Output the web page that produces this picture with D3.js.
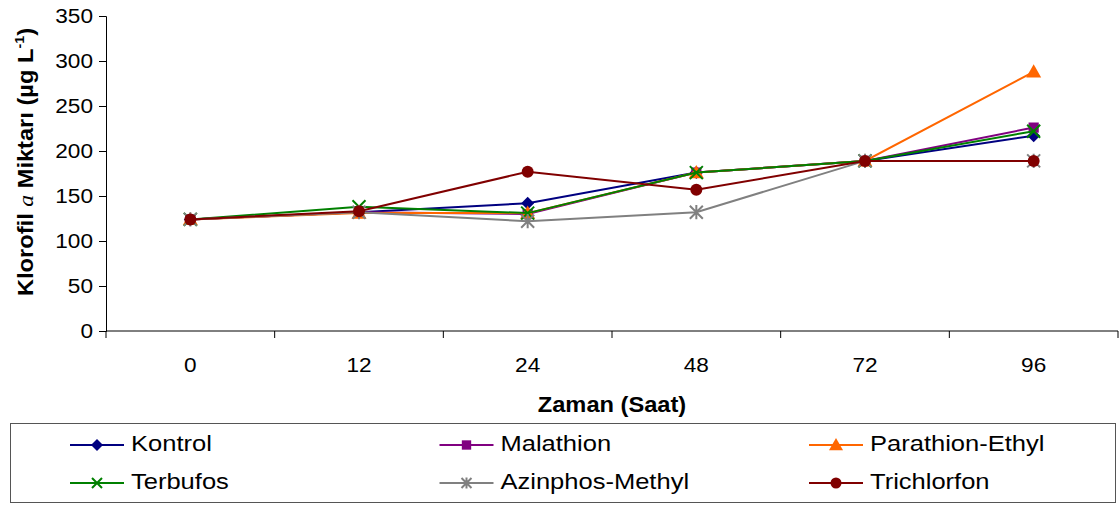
<!DOCTYPE html>
<html>
<head>
<meta charset="utf-8">
<script src="https://cdn.jsdelivr.net/npm/d3@7"></script>
<style>
  body { margin: 0; background: #fff; }
  svg { font-family: "Liberation Sans", Arial, sans-serif; }
</style>
</head>
<body>
<div id="chart"></div>
<script>
const hours = ["0", "12", "24", "48", "72", "96"];
const yTicks = [0, 50, 100, 150, 200, 250, 300, 350];

const kontrol = [124, 132, 142, 176, 189, 217];
const malathion = [124, 132, 130, 176, 189, 226];
const parathionEthyl = [124, 131, 131, 176, 189, 288];
const terbufos = [124, 138, 131, 176, 189, 222];
const azinphosMethyl = [124, 132, 122, 132, 189, 189];
const trichlorfon = [124, 133, 177, 157, 189, 189];

const series = [
  { name: "Kontrol", values: kontrol, color: "#000080", symbol: "diamond" },
  { name: "Malathion", values: malathion, color: "#800080", symbol: "square" },
  { name: "Parathion-Ethyl", values: parathionEthyl, color: "#FF6600", symbol: "triangle" },
  { name: "Terbufos", values: terbufos, color: "#008000", symbol: "x" },
  { name: "Azinphos-Methyl", values: azinphosMethyl, color: "#808080", symbol: "star" },
  { name: "Trichlorfon", values: trichlorfon, color: "#800000", symbol: "circle" },
];

const width = 1119, height = 506;
const plot = { left: 106, right: 1118, top: 16, bottom: 331 };
const stretch = 1.16; // the original text is a little wider than Liberation Sans

const svg = d3.select("#chart").append("svg")
  .attr("width", width).attr("height", height);

const x = d3.scaleBand().domain(hours).range([plot.left, plot.right]);
const y = d3.scaleLinear().domain([0, 350]).range([plot.bottom, plot.top]);

// y axis
const yAxis = svg.append("g").attr("transform", `translate(${plot.left},0)`)
  .call(d3.axisLeft(y).tickValues(yTicks).tickSize(7).tickPadding(6));
yAxis.select(".domain").attr("stroke", "#000").attr("stroke-width", 1);
yAxis.selectAll(".tick line").attr("stroke", "#000");
yAxis.selectAll("text").attr("font-size", 19.5).attr("fill", "#000")
  .attr("font-family", "Liberation Sans, Arial, sans-serif")
  .attr("x", -13 / stretch).attr("transform", `scale(${stretch},1)`);

// x axis
const xAxis = svg.append("g").attr("transform", `translate(0,${plot.bottom})`)
  .call(d3.axisBottom(x).tickSize(0));
xAxis.select(".domain").attr("stroke", "#000").attr("d", `M${plot.left},0H${plot.right}`);
xAxis.selectAll(".tick text").attr("font-size", 19.5).attr("fill", "#000")
  .attr("font-family", "Liberation Sans, Arial, sans-serif")
  .attr("y", 41).attr("dy", 0).attr("transform", `scale(${stretch},1)`);
// ticks at category boundaries
const boundaries = hours.map(h => x(h)).concat([x(hours[hours.length - 1]) + x.bandwidth()]);
xAxis.selectAll("line.boundary").data(boundaries).join("line")
  .attr("class", "boundary")
  .attr("x1", d => d).attr("x2", d => d)
  .attr("y1", 0).attr("y2", 7)
  .attr("stroke", "#000");

// axis titles
svg.append("text")
  .attr("transform", `translate(${(plot.left + plot.right) / 2},412) scale(1.1,1)`)
  .attr("text-anchor", "middle").attr("font-size", 21.5).attr("font-weight", "bold")
  .text("Zaman (Saat)");

const yTitle = svg.append("text")
  .attr("transform", `translate(33,162) rotate(-90) scale(1.1,1)`)
  .attr("text-anchor", "middle").attr("font-size", 21.5).attr("font-weight", "bold");
yTitle.append("tspan").text("Klorofil ");
yTitle.append("tspan").attr("font-style", "italic").attr("font-weight", "normal")
  .attr("font-family", "Liberation Serif, Times New Roman, serif").text("a");
yTitle.append("tspan").text(" Miktarı (µg L");
yTitle.append("tspan").attr("font-size", 13).attr("dy", -9).text("-1");
yTitle.append("tspan").attr("dy", 9).text(")");

// markers
function drawMarker(g, symbol, color, size) {
  const s = size;
  if (symbol === "diamond") {
    g.append("path").attr("d", `M0,${-s}L${s},0L0,${s}L${-s},0Z`).attr("fill", color);
  } else if (symbol === "square") {
    g.append("rect").attr("x", -s * 0.85).attr("y", -s * 0.85)
      .attr("width", s * 1.7).attr("height", s * 1.7).attr("fill", color);
  } else if (symbol === "triangle") {
    g.append("path").attr("d", `M0,${-s}L${s},${s * 0.75}L${-s},${s * 0.75}Z`).attr("fill", color);
  } else if (symbol === "x") {
    g.append("path").attr("d", `M${-s},${-s}L${s},${s}M${-s},${s}L${s},${-s}`)
      .attr("stroke", color).attr("stroke-width", 2).attr("fill", "none");
  } else if (symbol === "star") {
    g.append("path").attr("d", `M${-s},${-s}L${s},${s}M${-s},${s}L${s},${-s}M0,${-s * 1.1}L0,${s * 1.1}`)
      .attr("stroke", color).attr("stroke-width", 2).attr("fill", "none");
  } else if (symbol === "circle") {
    g.append("circle").attr("r", s).attr("fill", color);
  }
}

const line = d3.line()
  .x((d, i) => x(hours[i]) + x.bandwidth() / 2)
  .y(d => y(d));

const plotSizes = { diamond: 6.5, square: 6, triangle: 7.5, x: 6.5, star: 6.5, circle: 6 };

series.forEach(s => {
  const g = svg.append("g");
  g.append("path").datum(s.values)
    .attr("d", line).attr("fill", "none")
    .attr("stroke", s.color).attr("stroke-width", 2);
  s.values.forEach((v, i) => {
    const m = g.append("g")
      .attr("transform", `translate(${x(hours[i]) + x.bandwidth() / 2},${y(v)})`);
    drawMarker(m, s.symbol, s.color, plotSizes[s.symbol]);
  });
});

// legend
svg.append("rect")
  .attr("x", 10.5).attr("y", 423.5).attr("width", 1105).attr("height", 79)
  .attr("fill", "#fff").attr("stroke", "#555").attr("stroke-width", 1);

const legendCols = [70, 439.5, 809];
const legendRows = [445, 483];
const legendSizes = { diamond: 6, square: 5.5, triangle: 7, x: 5, star: 5, circle: 5.5 };
series.forEach((s, i) => {
  const lx = legendCols[i % 3];
  const ly = legendRows[Math.floor(i / 3)];
  const g = svg.append("g");
  g.append("line").attr("x1", lx).attr("x2", lx + 54).attr("y1", ly).attr("y2", ly)
    .attr("stroke", s.color).attr("stroke-width", 2);
  const m = g.append("g").attr("transform", `translate(${lx + 27},${ly})`);
  drawMarker(m, s.symbol, s.color, legendSizes[s.symbol]);
  g.append("text").attr("transform", `translate(${lx + 61},${ly + 6}) scale(${stretch},1)`)
    .attr("font-size", 22).attr("fill", "#000").text(s.name);
});
</script>
</body>
</html>
